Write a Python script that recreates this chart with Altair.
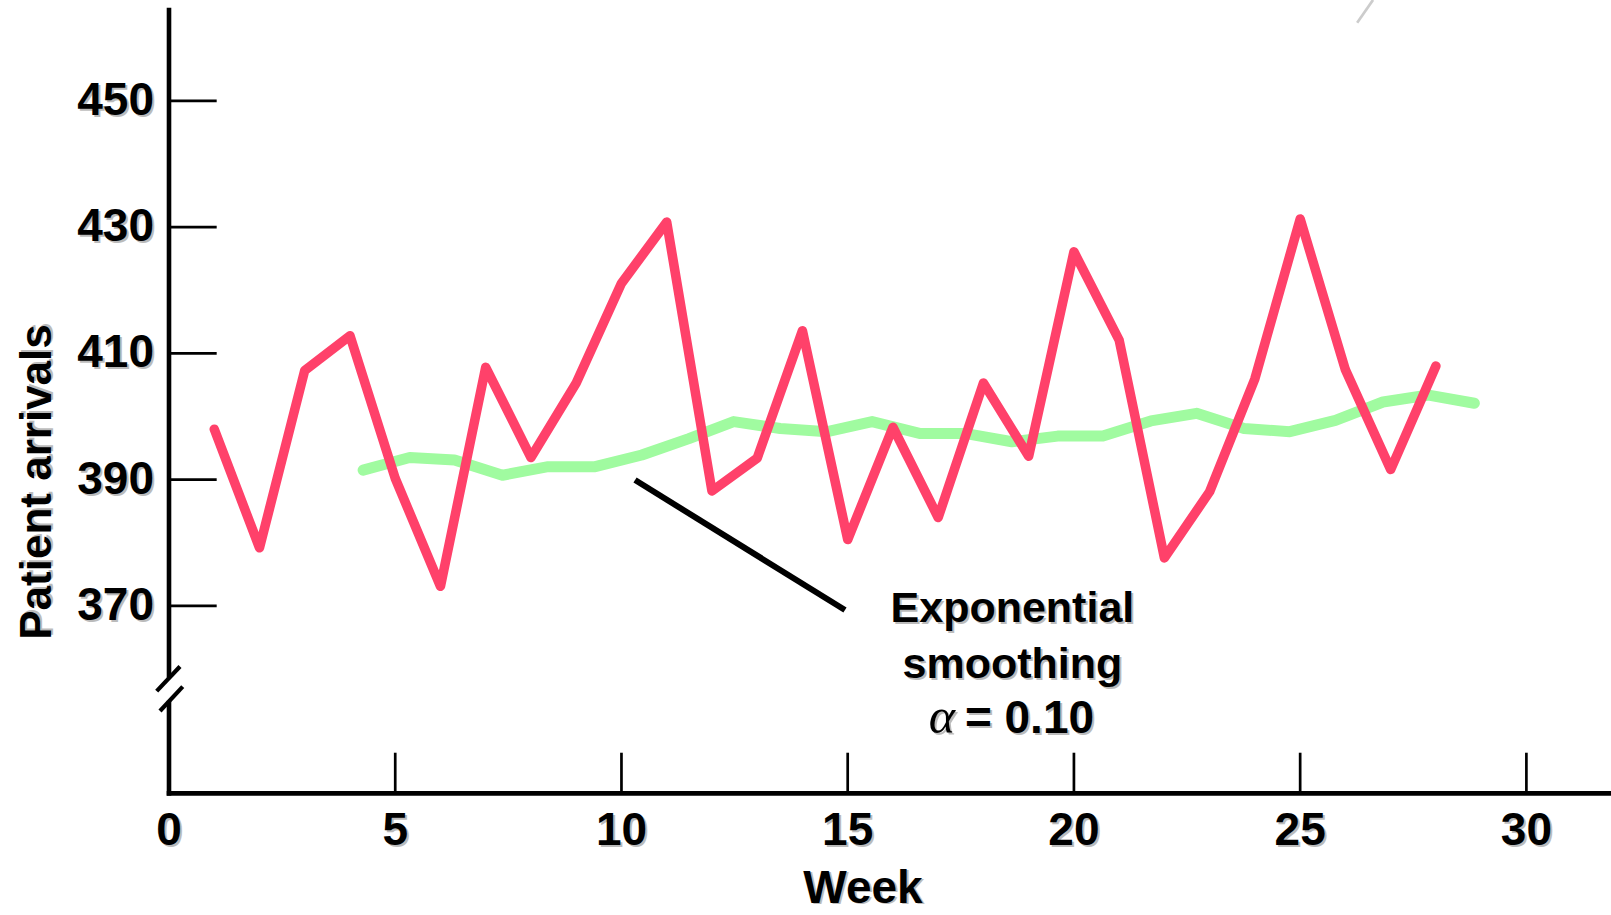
import altair as alt
import pandas as pd

# ---------------- data ----------------
weeks = list(range(1, 29))
arrivals = [398.0, 379.2, 407.3, 412.8, 390.2, 373.1, 407.8, 393.5, 405.3, 421.1,
            430.8, 388.2, 393.4, 413.6, 380.5, 398.3, 384.0, 405.3, 393.7, 426.1,
            412.1, 377.6, 388.1, 406.0, 431.3, 407.4, 391.6, 408.0]

smooth_weeks = [4.29, 5.32, 6.31, 7.37, 8.38, 9.42, 10.45, 11.49, 12.48, 13.51,
                14.55, 15.54, 16.61, 17.62, 18.63, 19.64, 20.64, 21.70, 22.71, 23.76,
                24.77, 25.78, 26.83, 27.84, 28.85]
smoothed = [391.5, 393.5, 393.1, 390.7, 392.05, 392.05, 393.9, 396.5, 399.2, 398.1,
            397.6, 399.2, 397.3, 397.3, 396.0, 396.9, 396.9, 399.3, 400.5, 398.1,
            397.6, 399.4, 402.3, 403.4, 402.1]

y_tick_values = [370, 390, 410, 430, 450]
y_tick_labels = ["370", "390", "410", "430", "450"]
x_label_values = [0, 5, 10, 15, 20, 25, 30]
x_label_texts = ["0", "5", "10", "15", "20", "25", "30"]
x_tick_values = [5, 10, 15, 20, 25, 30]

ann_lines = ["Exponential", "smoothing"]
ann_alpha = "α"
ann_value = "= 0.10"

X_DOMAIN = [0, 31.87]
Y_DOMAIN = [340.2, 464.4]

RED = "#FF416A"
GREEN = "#A0FBA0"
SANS = "Liberation Sans"

xs = alt.Scale(domain=X_DOMAIN, nice=False, zero=False)
ys = alt.Scale(domain=Y_DOMAIN, nice=False, zero=False)


def X(f):
    return alt.X(f, type="quantitative", scale=xs, axis=None)


def Y(f):
    return alt.Y(f, type="quantitative", scale=ys, axis=None)


# ---------------- axes (drawn as marks) ----------------
axis_lines = pd.DataFrame({
    "x": [0, 0, 0], "x2": [0, 0, 31.87],
    "y": [359.0, 340.3, 340.3], "y2": [464.4, 354.6, 340.3],
})
axis_layer = alt.Chart(axis_lines).mark_rule(
    color="black", strokeWidth=4.6, strokeCap="square"
).encode(x=X("x"), x2="x2", y=Y("y"), y2="y2")

breaks = pd.DataFrame({
    "x": [-0.272, -0.199], "x2": [0.243, 0.303],
    "y": [356.5, 353.35], "y2": [360.4, 357.2],
})
break_layer = alt.Chart(breaks).mark_rule(
    color="black", strokeWidth=4.2
).encode(x=X("x"), x2="x2", y=Y("y"), y2="y2")

ytick_df = pd.DataFrame({"v": y_tick_values, "label": y_tick_labels,
                         "x0": [0] * 5, "x1": [1.054] * 5})
ytick_layer = alt.Chart(ytick_df).mark_rule(color="black", strokeWidth=2.7).encode(
    y=Y("v"), x=X("x0"), x2="x1")

xtick_df = pd.DataFrame({"v": x_tick_values, "y0": [340.3] * 6, "y1": [346.74] * 6})
xtick_layer = alt.Chart(xtick_df).mark_rule(color="black", strokeWidth=2.7).encode(
    x=X("v"), y=Y("y0"), y2="y1")

xlab_df = pd.DataFrame({"v": x_label_values, "label": x_label_texts})


def shadowed(chart_fn, sdx=2, sdy=2):
    shadow = chart_fn(dict(color="#7a7a7a", opacity=0.5), sdx, sdy)
    main = chart_fn(dict(color="black"), 0, 0)
    return shadow + main


ylab_layer = shadowed(lambda st, dx, dy: alt.Chart(ytick_df).mark_text(
    font=SANS, fontWeight="bold", fontSize=46, align="right", baseline="middle",
    dx=dx, dy=dy, **st).encode(y=Y("v"), x=alt.value(-15), text="label"))

xlab_layer = shadowed(lambda st, dx, dy: alt.Chart(xlab_df).mark_text(
    font=SANS, fontWeight="bold", fontSize=46, align="center", baseline="alphabetic",
    dx=dx, dy=dy, **st).encode(x=X("v"), y=alt.value(835), text="label"))

title_df = pd.DataFrame({"t": ["Week"]})
xtitle_layer = shadowed(lambda st, dx, dy: alt.Chart(title_df).mark_text(
    font=SANS, fontWeight="bold", fontSize=46, align="center", baseline="alphabetic",
    dx=dx, dy=dy, **st).encode(x=alt.value(694), y=alt.value(893), text="t"),
    sdx=2, sdy=1)

ytitle_df = pd.DataFrame({"t": ["Patient arrivals"]})
ytitle_layer = shadowed(lambda st, dx, dy: alt.Chart(ytitle_df).mark_text(
    font=SANS, fontWeight="bold", fontSize=44, align="center", baseline="alphabetic",
    angle=270, dx=dx, dy=dy, **st).encode(x=alt.value(-118), y=alt.value(472), text="t"))

# ---------------- series ----------------
red_df = pd.DataFrame({"week": weeks, "arrivals": arrivals})
red_layer = alt.Chart(red_df).mark_line(
    color=RED, strokeWidth=9.5, strokeCap="round", strokeJoin="round"
).encode(x=X("week"), y=Y("arrivals"))

green_df = pd.DataFrame({"week": smooth_weeks, "smoothed": smoothed})
green_layer = alt.Chart(green_df).mark_line(
    color=GREEN, strokeWidth=11, strokeCap="round", strokeJoin="round"
).encode(x=X("week"), y=Y("smoothed"))

# ---------------- annotation ----------------
pointer_df = pd.DataFrame({"x": [10.30], "x2": [14.94], "y": [389.94], "y2": [369.34]})
pointer_layer = alt.Chart(pointer_df).mark_rule(
    color="black", strokeWidth=6, strokeCap="butt"
).encode(x=X("x"), x2="x2", y=Y("y"), y2="y2")

ann_df = pd.DataFrame({"x": [18.64, 18.64], "y": [367.44, 358.57], "t": ann_lines})
ann_layer = shadowed(lambda st, dx, dy: alt.Chart(ann_df).mark_text(
    font=SANS, fontWeight="bold", fontSize=43, align="center", baseline="alphabetic",
    dx=dx, dy=dy, **st).encode(x=X("x"), y=Y("y"), text="t"))

alpha_df = pd.DataFrame({"x": [17.08], "y": [349.85], "t": [ann_alpha]})
alpha_layer = shadowed(lambda st, dx, dy: alt.Chart(alpha_df).mark_text(
    font="Liberation Serif", fontStyle="italic", fontSize=50, align="center",
    baseline="alphabetic", dx=dx, dy=dy, **st).encode(x=X("x"), y=Y("y"), text="t"))

val_df = pd.DataFrame({"x": [17.59], "y": [349.85], "t": [ann_value]})
val_layer = shadowed(lambda st, dx, dy: alt.Chart(val_df).mark_text(
    font=SANS, fontWeight="bold", fontSize=46, align="left", baseline="alphabetic",
    dx=dx, dy=dy, **st).encode(x=X("x"), y=Y("y"), text="t"))

# faint gray stroke in the top-right corner
slash_df = pd.DataFrame({"x": [26.61], "x2": [26.26], "y": [465.99], "y2": [462.39]})
slash_layer = alt.Chart(slash_df).mark_rule(
    color="#cccccc", strokeWidth=2.7
).encode(x=X("x"), x2="x2", y=Y("y"), y2="y2")

chart = alt.layer(
    slash_layer, ytick_layer, xtick_layer, axis_layer, break_layer,
    ylab_layer, xlab_layer, xtitle_layer, ytitle_layer,
    green_layer, red_layer, pointer_layer, ann_layer, alpha_layer, val_layer,
).properties(
    width=1442, height=784,
    autosize=alt.AutoSizeParams(type="none"),
    padding={"left": 169, "top": 10, "right": 0, "bottom": 121},
    background="white",
).configure_view(stroke=None)

chart.save("out.html", embed_options={"renderer": "svg", "actions": False})
